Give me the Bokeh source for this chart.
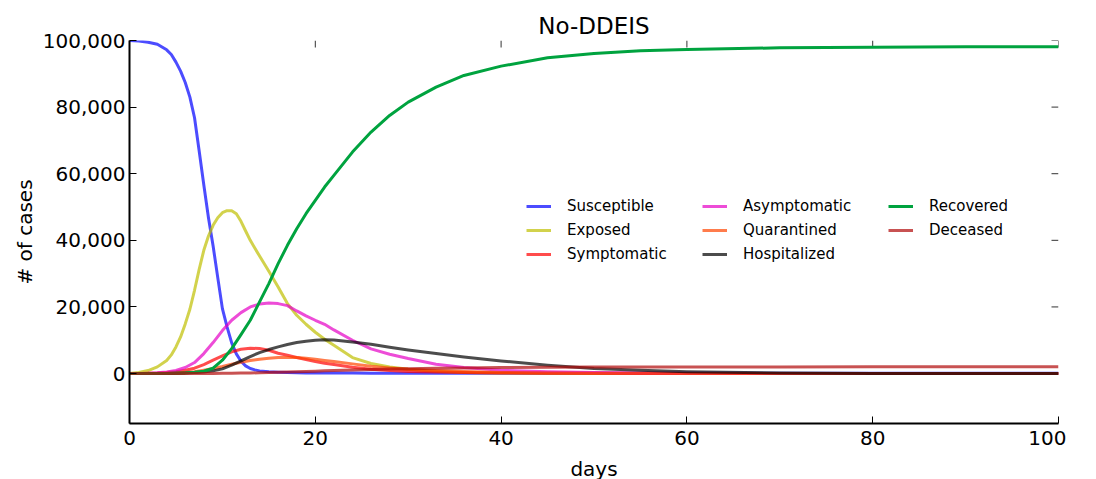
import math
from bokeh.plotting import figure
from bokeh.models import Range1d, NumeralTickFormatter, Legend, LegendItem, FixedTicker, GlobalInlineStyleSheet
from bokeh.embed import file_html
from bokeh.resources import INLINE

# ---------------- data ----------------
days = [0, 1, 2, 3, 4, 5, 6, 7, 8, 9, 10, 11, 12, 13, 14, 15, 16, 17, 18, 19, 20, 21, 22,
        24, 26, 28, 30, 33, 36, 40, 45, 50, 55, 60, 70, 80, 90, 100]
days_fine = [0, 1, 2, 3, 4, 4.5, 5, 5.5, 6, 6.5, 7, 7.5, 8, 8.5, 9, 9.5, 10, 10.5, 11, 11.5,
             12, 12.5, 13, 13.5, 14, 15, 16, 17, 18, 19, 20, 21, 22,
             24, 26, 28, 30, 33, 36, 40, 45, 50, 55, 60, 70, 80, 90, 100]

susceptible = [100000, 99850, 99500, 98900, 97200, 95800, 93500, 90800, 87400, 83000, 76800,
               66800, 56600, 46800, 38300, 28800, 19500, 14000, 9200, 5900, 3700, 2300, 1500,
               1100, 800, 550, 400, 300, 250, 200, 180, 160, 150,
               130, 120, 110, 100, 100, 90, 90, 80, 80, 80, 80, 80, 80, 80, 80]
exposed = [0, 300, 900, 2000, 3900, 5600, 8000, 11000, 14900, 19300, 25000, 31300, 37000,
           41300, 44500, 46800, 48300, 48900, 48900, 48000, 45700, 42800, 40000, 37600, 35300,
           30700, 26000, 21000, 17500, 14800, 12400, 10300, 8500,
           4800, 3000, 2000, 1300, 700, 350, 150, 60, 20, 0, 0, 0, 0, 0, 0]
symptomatic = [0, 20, 60, 130, 280, 550, 1000, 1600, 2700, 4000, 5300, 6500, 7300, 7600, 7500,
               7000, 6100, 5500, 4800, 4200, 3600, 3100, 2700,
               1900, 1300, 900, 650, 450, 300, 200, 120, 80, 50, 30, 15, 5, 0, 0]
asymptomatic = [0, 30, 100, 250, 500, 900, 1800, 3300, 6000, 9300, 12900, 16000, 18300, 20000,
                20900, 21200, 21000, 20400, 18800, 17300, 16000, 14800, 13100,
                10000, 7400, 5800, 4500, 2800, 1800, 1000, 550, 300, 150, 80, 30, 10, 0, 0]
quarantined = [0, 5, 20, 45, 80, 150, 300, 550, 1000, 1500, 2100, 2800, 3400, 3900, 4300, 4600,
               4800, 4850, 4800, 4600, 4300, 3950, 3600,
               2900, 2200, 1700, 1300, 900, 600, 350, 200, 100, 60, 40, 10, 0, 0, 0]
hospitalized = [0, 3, 10, 20, 40, 80, 150, 280, 480, 800, 1400, 2500, 3800, 5100, 6300, 7200,
                8000, 8700, 9300, 9700, 10000, 10150, 10100,
                9500, 8800, 7900, 7100, 6000, 5000, 3800, 2500, 1500, 1000, 550, 150, 50, 20, 10]
recovered = [0, 0, 5, 15, 40, 90, 200, 400, 700, 1600, 4000, 7500, 11700, 16000, 21500, 27000,
             33000, 38500, 43500, 48000, 52000, 56000, 59500,
             66500, 72500, 77500, 81500, 86000, 89500, 92300, 94800, 96100, 96900, 97300,
             97800, 98000, 98100, 98100]
deceased = [0, 0, 0, 0, 0, 0, 5, 10, 20, 35, 60, 90, 130, 180, 230, 300, 380, 460, 550, 630,
            720, 810, 900,
            1050, 1200, 1350, 1450, 1600, 1700, 1800, 1880, 1930, 1960, 1980, 2000, 2010, 2020, 2020]

x_ticks = [0, 20, 40, 60, 80, 100]
y_ticks = [0, 20000, 40000, 60000, 80000, 100000]

series = [
    ("Susceptible", days_fine, susceptible, "#0000ff", 0.7),
    ("Exposed", days_fine, exposed, "#bfbf00", 0.7),
    ("Symptomatic", days, symptomatic, "#ff0000", 0.7),
    ("Asymptomatic", days, asymptomatic, "#e600c6", 0.7),
    ("Quarantined", days, quarantined, "#ff4500", 0.7),
    ("Hospitalized", days, hospitalized, "#000000", 0.7),
    ("Recovered", days, recovered, "#00a33f", 1.0),
    ("Deceased", days, deceased, "#b00808", 0.7),
]

FONT = "DejaVu Sans"

p = figure(frame_width=929, frame_height=383, output_backend="svg", toolbar_location=None,
           x_range=Range1d(0, 100), y_range=Range1d(-15000, 100000),
           min_border_left=129, min_border_right=8, min_border_top=40, min_border_bottom=40)
p.stylesheets = [GlobalInlineStyleSheet(css="html, body { overflow: hidden; }")]

p.title.text = "No-DDEIS"
p.title.align = "center"
p.title.text_font = FONT
p.title.text_font_size = "23px"
p.title.text_font_style = "normal"
p.title.text_color = "#000000"
p.title.standoff = 3

p.outline_line_color = None
p.xgrid.visible = False
p.ygrid.visible = False
p.background_fill_color = "white"

for ax, ticks in ((p.xaxis[0], x_ticks), (p.yaxis[0], y_ticks)):
    ax.ticker = FixedTicker(ticks=ticks)
    ax.axis_line_color = "black"
    ax.axis_line_width = 2
    ax.major_tick_in = 7
    ax.major_tick_out = 0
    ax.major_tick_line_color = "black"
    ax.minor_tick_line_color = None
    ax.major_label_text_font = FONT
    ax.major_label_text_font_size = "20px"
    ax.major_label_text_color = "black"
    ax.axis_label_text_font = FONT
    ax.axis_label_text_font_size = "20px"
    ax.axis_label_text_font_style = "normal"
    ax.axis_label_text_color = "black"

p.xaxis.axis_label = "days"
p.yaxis.axis_label = "# of cases"
p.yaxis.formatter = NumeralTickFormatter(format="0,0")
p.xaxis.major_label_standoff = 7
p.xaxis.axis_label_standoff = 9
p.yaxis.major_label_standoff = 4
p.yaxis.axis_label_standoff = 3

# mirror tick marks along the top and right edges (no spine), 7 px long, pointing inward
x_end = p.x_range.end
y_end = p.y_range.end
p.ray(x=x_ticks, y=[y_end] * len(x_ticks), length=7, length_units="screen",
      angle=-math.pi / 2, line_color="#333333", line_width=1)
p.ray(x=[x_end] * len(y_ticks), y=y_ticks, length=7, length_units="screen",
      angle=math.pi, line_color="#333333", line_width=1)

renderers = {}
for name, xs, vals, color, alpha in series:
    r = p.line(xs, vals, line_color=color, line_alpha=alpha, line_width=3, line_join="round")
    renderers[name] = r

columns = [
    (["Susceptible", "Exposed", "Symptomatic"], (397, 159)),
    (["Asymptomatic", "Quarantined", "Hospitalized"], (573, 159)),
    (["Recovered", "Deceased"], (759, 183)),
]
for names, loc in columns:
    leg = Legend(items=[LegendItem(label=n, renderers=[renderers[n]]) for n in names],
                 location=loc, orientation="vertical", padding=0, margin=0, spacing=4,
                 glyph_width=25, glyph_height=20, label_height=20, label_standoff=16,
                 label_text_font=FONT, label_text_font_size="15px", label_text_color="black",
                 border_line_color=None, background_fill_alpha=0)
    p.add_layout(leg, "center")

open("out.html", "w").write(file_html(p, INLINE))
